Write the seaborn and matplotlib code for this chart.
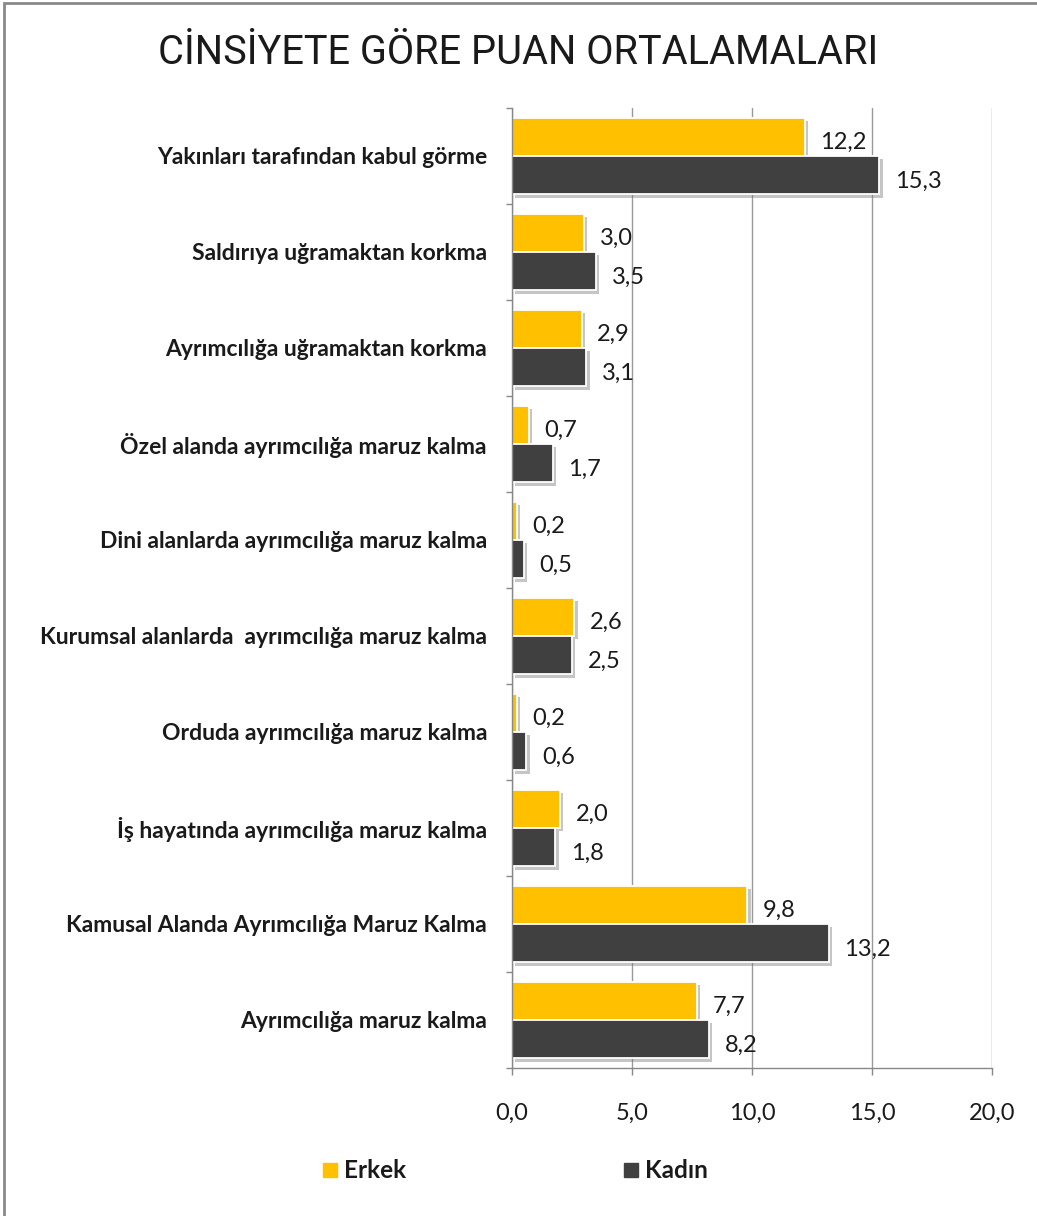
import matplotlib
matplotlib.use("Agg")
import matplotlib.pyplot as plt
import matplotlib.patheffects as pe
from matplotlib.patches import Rectangle
import seaborn as sns
import pandas as pd
import numpy as np

categories = [
    "Yakınları tarafından kabul görme",
    "Saldırıya uğramaktan korkma",
    "Ayrımcılığa uğramaktan korkma",
    "Özel alanda ayrımcılığa maruz kalma",
    "Dini alanlarda ayrımcılığa maruz kalma",
    "Kurumsal alanlarda  ayrımcılığa maruz kalma",
    "Orduda ayrımcılığa maruz kalma",
    "İş hayatında ayrımcılığa maruz kalma",
    "Kamusal Alanda Ayrımcılığa Maruz Kalma",
    "Ayrımcılığa maruz kalma",
]
erkek = [12.2, 3.0, 2.9, 0.7, 0.2, 2.6, 0.2, 2.0, 9.8, 7.7]
kadin = [15.3, 3.5, 3.1, 1.7, 0.5, 2.5, 0.6, 1.8, 13.2, 8.2]
series = ["Erkek", "Kadın"]
xticks = [0, 5, 10, 15, 20]
title = "CİNSİYETE GÖRE PUAN ORTALAMALARI"

colors = {"Erkek": "#FFC000", "Kadın": "#404040"}

df = pd.DataFrame({
    "cat": categories * 2,
    "val": erkek + kadin,
    "grp": ["Erkek"] * len(categories) + ["Kadın"] * len(categories),
})

sns.set_theme(style="white")
plt.rcParams["font.family"] = ["Lato", "DejaVu Sans"]

W, H = 1037, 1216
fig = plt.figure(figsize=(W / 100, H / 100), dpi=100)
ax = fig.add_axes([512 / W, 1 - 1068 / H, 480 / W, 960 / H])

sns.barplot(data=df, x="val", y="cat", hue="grp", order=categories,
            hue_order=series, palette=colors, orient="h", width=0.80,
            saturation=1, dodge=True, ax=ax, legend=False,
            edgecolor="white", linewidth=1.3)

shadow = [pe.SimplePatchShadow(offset=(2.5, -2.5), shadow_rgbFace="#808080", alpha=0.45),
          pe.Normal()]
for p in ax.patches:
    p.set_path_effects(shadow)

ax.set_xlim(0, 20)
ax.set_ylim(len(categories) - 0.5, -0.5)
ax.set_xticks(xticks)
ax.set_xticklabels([f"{t:.1f}".replace(".", ",") for t in xticks],
                   fontsize=17, color="#1a1a1a")
ax.set_yticks(range(len(categories)))
ax.set_yticklabels(categories, fontsize=16.5, fontweight="bold", color="#1a1a1a")
ax.tick_params(axis="y", length=0, pad=18)
ax.set_yticks(np.arange(-0.5, len(categories), 1), minor=True)
ax.tick_params(axis="y", which="minor", left=True, length=4, width=1, color="#888888")
ax.tick_params(axis="x", bottom=True, length=5, width=1, color="#888888", pad=20)
ax.xaxis.grid(True, color="#999999", linewidth=1)
ax.set_axisbelow(True)
for s in ["top", "right"]:
    ax.spines[s].set_visible(False)
for s in ["left", "bottom"]:
    ax.spines[s].set_color("#888888")
    ax.spines[s].set_linewidth(1)
ax.set_xlabel("")
ax.set_ylabel("")

# value labels
for i, (e, k) in enumerate(zip(erkek, kadin)):
    for v, off in ((e, -0.2), (k, 0.2)):
        ax.text(v + 0.65, i + off + 0.06, f"{v:.1f}".replace(".", ","),
                fontsize=17, color="#1a1a1a", va="center", ha="left")

fig.text(0.5, 1 - 52 / H, title, ha="center", va="center", fontsize=28.6,
         family=["Roboto", "DejaVu Sans"], fontweight="normal", color="#1a1a1a")

# legend
for name, xl in (("Erkek", 323), ("Kadın", 624)):
    fig.patches.append(Rectangle((xl / W, 1 - 1177 / H), 14 / W, 14 / H,
                                 transform=fig.transFigure, color=colors[name]))
    fig.text((xl + 21) / W, 1 - 1170 / H, name, fontsize=17.5, fontweight="bold",
             va="center", ha="left", color="#1a1a1a")

fig.patches.append(Rectangle((4 / W, -0.05), 1.1, 1.05 - 3 / H,
                             transform=fig.transFigure, fill=False,
                             edgecolor="#8a8a8a", linewidth=2))

fig.savefig("out.png", dpi=100)
